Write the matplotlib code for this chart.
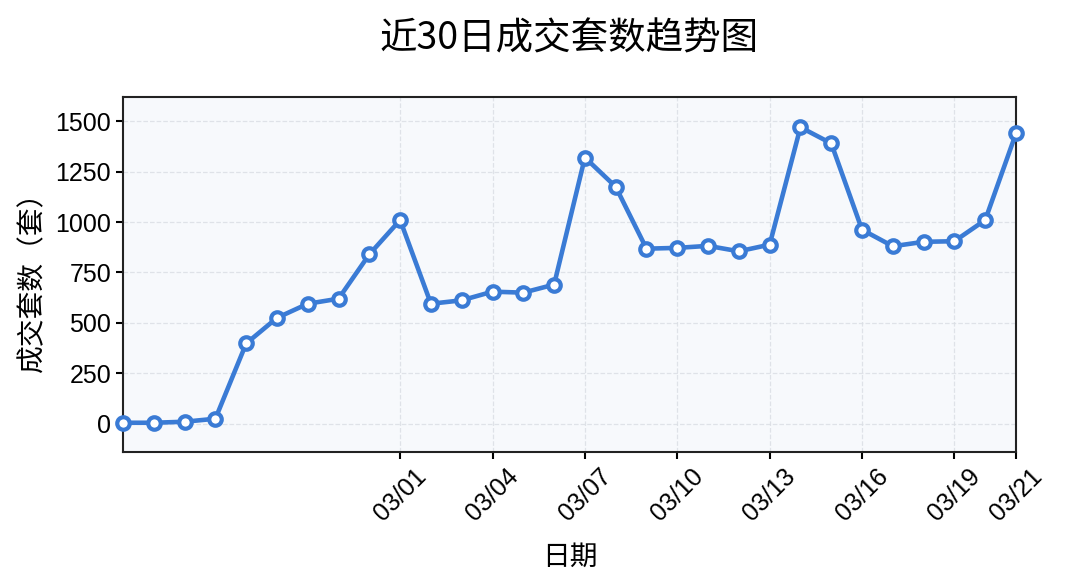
import matplotlib
matplotlib.use("Agg")
import matplotlib.pyplot as plt

plt.rcParams['font.family'] = ['Liberation Sans', 'Noto Sans CJK SC', 'DejaVu Sans']
plt.rcParams['axes.unicode_minus'] = False

# data, 02/20 .. 03/21
dates = ["02/20", "02/21", "02/22", "02/23", "02/24", "02/25", "02/26", "02/27", "02/28",
         "03/01", "03/02", "03/03", "03/04", "03/05", "03/06", "03/07", "03/08", "03/09",
         "03/10", "03/11", "03/12", "03/13", "03/14", "03/15", "03/16", "03/17", "03/18",
         "03/19", "03/20", "03/21"]
counts = [5, 5, 10, 25, 398, 525, 595, 620, 840,
          1010, 595, 612, 655, 650, 690, 1320, 1175, 868,
          872, 882, 855, 888, 1470, 1390, 962, 880, 902,
          905, 1010, 1440]
tick_dates = ["03/01", "03/04", "03/07", "03/10", "03/13", "03/16", "03/19", "03/21"]

x = list(range(len(dates)))

fig = plt.figure(figsize=(10.65, 5.85), dpi=100)
ax = fig.add_axes([123/1065, 1 - 452/585, (1016-123)/1065, (452-97)/585])
ax.set_facecolor("#f7f9fc")

ax.plot(x, counts, color="#3a7bd5", linewidth=3.3, marker="o", markersize=9,
        markerfacecolor="white", markeredgecolor="#3a7bd5", markeredgewidth=3,
        clip_on=False, zorder=3)

ax.set_xlim(0, len(dates) - 1)
ax.set_ylim(-140, 1620)
ax.set_yticks([0, 250, 500, 750, 1000, 1250, 1500])

tick_pos = [dates.index(d) for d in tick_dates]
ax.set_xticks(tick_pos)
ax.set_xticklabels(tick_dates, rotation=45, ha="center")

ax.grid(True, linestyle="--", color="#d9dde3", linewidth=0.9, alpha=0.8)
ax.tick_params(labelsize=18, width=1.5, length=5)
for s in ax.spines.values():
    s.set_linewidth(1.5)
    s.set_color("#222222")

ax.set_xlabel("日期", fontsize=20, family=['Noto Sans CJK SC'], labelpad=12)
ax.set_ylabel("成交套数（套）", fontsize=20, family=['Noto Sans CJK SC'], labelpad=6)
ax.set_title("近30日成交套数趋势图", fontsize=27, pad=34, family=['Noto Sans CJK SC', 'Liberation Sans'])

fig.savefig("out.png", dpi=100)
